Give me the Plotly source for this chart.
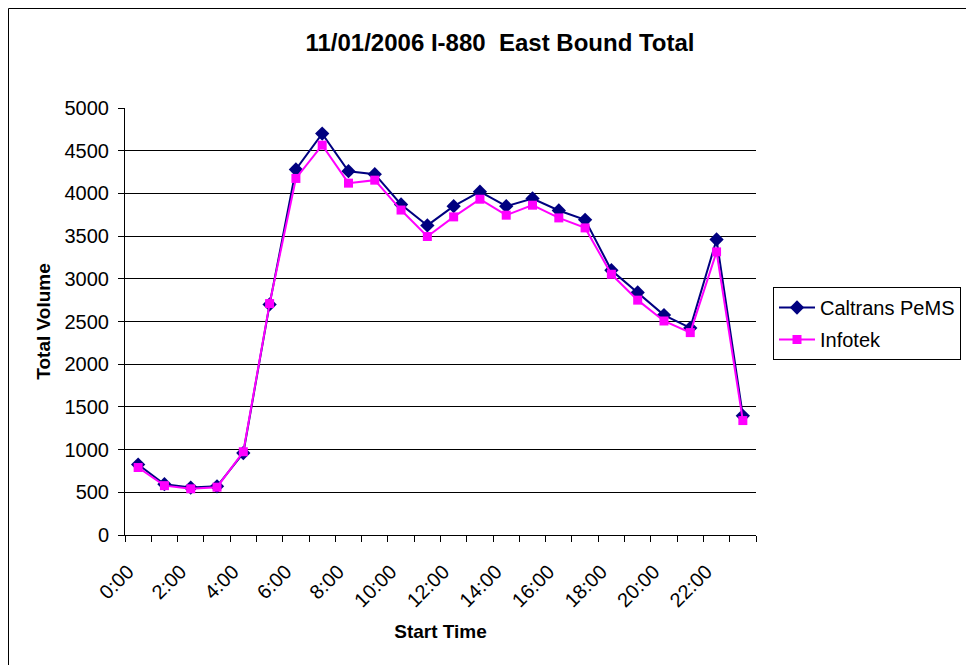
import plotly.graph_objects as go

# ---- data ----
hours = ["0:00", "1:00", "2:00", "3:00", "4:00", "5:00", "6:00", "7:00",
         "8:00", "9:00", "10:00", "11:00", "12:00", "13:00", "14:00", "15:00",
         "16:00", "17:00", "18:00", "19:00", "20:00", "21:00", "22:00", "23:00"]
caltrans = [825, 595, 555, 570, 960, 2700, 4280, 4700, 4260, 4225, 3870, 3625,
            3850, 4020, 3850, 3940, 3800, 3690, 3100, 2840, 2575, 2425, 3460, 1395]
infotek = [790, 578, 541, 560, 975, 2710, 4175, 4565, 4120, 4155, 3805, 3495,
           3725, 3932, 3745, 3862, 3713, 3596, 3053, 2750, 2506, 2370, 3315, 1340]
tick_labels = hours[::2]
y_ticks = [0, 500, 1000, 1500, 2000, 2500, 3000, 3500, 4000, 4500, 5000]

FONT = "Arial, Liberation Sans, sans-serif"
PAGE_OFF = 8  # default body margin of the html page
W, H = 974 - PAGE_OFF, 665 - PAGE_OFF
# plot area in page pixels: x 125..756, y 108..535
ML, MT = 125 - PAGE_OFF, 108 - PAGE_OFF
MR, MB = W - (756 - PAGE_OFF), H - (535 - PAGE_OFF)
PW, PH = W - ML - MR, H - MT - MB

def px_x(x_page):
    return (x_page - PAGE_OFF - ML) / PW

def px_y(y_page):
    return (H - MB - (y_page - PAGE_OFF)) / PH

xpos = list(range(len(hours)))

fig = go.Figure()
fig.add_trace(go.Scatter(
    x=xpos, y=caltrans, name="Caltrans PeMS", mode="lines+markers",
    line=dict(color="#000080", width=2),
    marker=dict(symbol="diamond", size=11, color="#000080"),
    legendgroup="a",
))
fig.add_trace(go.Scatter(
    x=xpos, y=infotek, name="Infotek", mode="lines+markers",
    line=dict(color="#FF00FF", width=2),
    marker=dict(symbol="square", size=9, color="#FF00FF"),
    legendgroup="b",
))

boundaries = [i - 0.5 for i in range(len(hours) + 1)]
major_vals = boundaries[0:len(hours):2]

fig.update_layout(
    width=W, height=H,
    margin=dict(l=ML, r=MR, t=MT, b=MB),
    paper_bgcolor="white", plot_bgcolor="white",
    font=dict(family=FONT, color="black", size=20),
    title=dict(text="11/01/2006 I-880  East Bound Total",
               font=dict(family=FONT, size=24, weight="bold", color="black"),
               x=px_x(500), xref="paper", xanchor="center",
               y=1 - (43 - PAGE_OFF) / H, yref="container", yanchor="middle"),
    showlegend=True,
    legend=dict(x=px_x(773), y=px_y(287), xanchor="left", yanchor="top",
                bordercolor="black", borderwidth=1, bgcolor="white",
                font=dict(family=FONT, size=20, color="black"),
                itemwidth=36,
                tracegroupgap=3, traceorder="grouped"),
    xaxis=dict(
        range=[-0.5, len(hours) - 0.5],
        tickmode="array", tickvals=major_vals, ticktext=tick_labels,
        tickangle=-45, ticks="outside", ticklen=6, tickcolor="black",
        ticklabelstandoff=10, ticklabelshift=3,
        showline=True, linecolor="black", linewidth=1,
        showgrid=False, zeroline=False,
        tickfont=dict(family=FONT, size=20, color="black"),
        minor=dict(tickvals=boundaries, ticks="outside", ticklen=6,
                   tickcolor="black", showgrid=False),
        title=dict(text="Start Time",
                   font=dict(family=FONT, size=19, weight="bold", color="black"),
                   standoff=14),
    ),
    yaxis=dict(
        range=[0, 5000], tickmode="array", tickvals=y_ticks,
        ticks="outside", ticklen=6, tickcolor="black",
        ticklabelstandoff=5,
        showline=True, linecolor="black", linewidth=1,
        showgrid=True, gridcolor="black", gridwidth=1, zeroline=False,
        tickfont=dict(family=FONT, size=20, color="black"),
        title=dict(text="Total Volume",
                   font=dict(family=FONT, size=19, weight="bold", color="black"),
                   standoff=8),
    ),
    shapes=[dict(type="rect", xref="paper", yref="paper",
                 x0=px_x(PAGE_OFF + 0.5), x1=px_x(1000),
                 y0=px_y(700), y1=px_y(PAGE_OFF + 0.5),
                 line=dict(color="black", width=1), fillcolor="rgba(0,0,0,0)",
                 layer="below")],
)

fig.write_html("out.html")
